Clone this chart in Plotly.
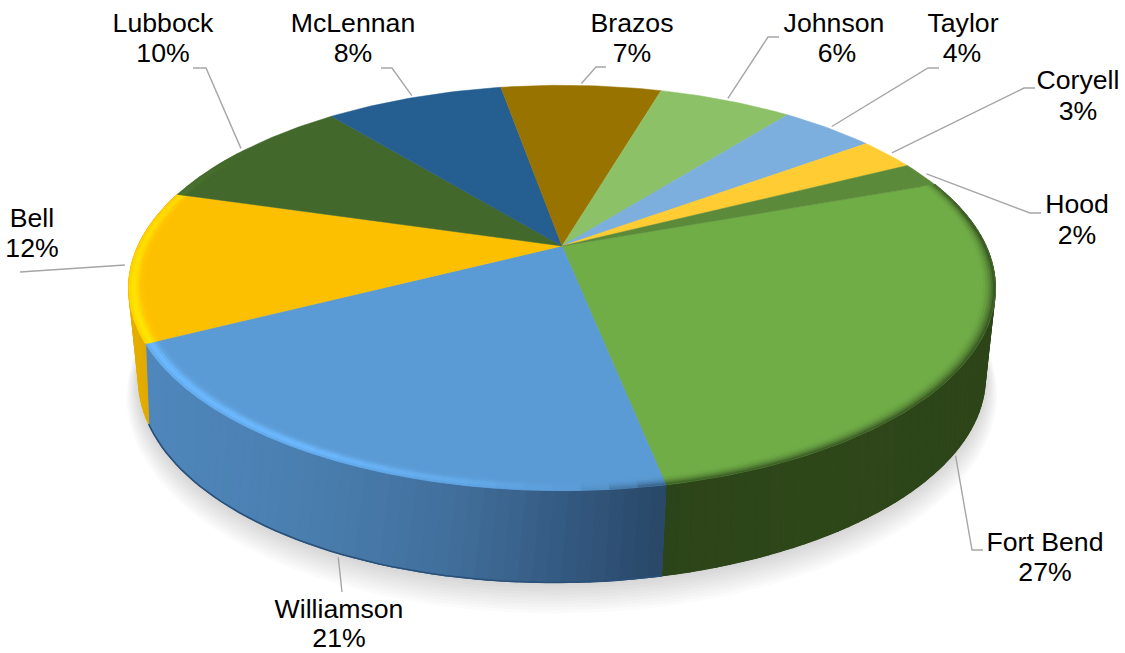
import numpy as np
import plotly.graph_objects as go

# ---- data (clockwise from the start angle) ----
counties = ["Fort Bend", "Williamson", "Bell", "Lubbock", "McLennan",
            "Brazos", "Johnson", "Taylor", "Coryell", "Hood"]
shares = [27.4, 20.6, 12.1, 9.6, 8.1, 7.3, 6.1, 4.3, 2.6, 2.0]

# ---- styles ----
top_colors = ["#70AD47", "#5B9BD5", "#FDC000", "#43682B", "#255E91",
              "#997300", "#8CC168", "#7CAFDD", "#FFCD33", "#5B8A3A"]
FONT = "Liberation Sans"
LEADER = "#A6A6A6"
START = 19.8           # degrees, counter-clockwise from +x
CX, CY, RX, RY, P = 562.0, 246.0, 424.0, 194.0, 0.207
P_LOW, DEPTH, KX_LOW, KY_LOW, SKEW_LOW = 0.258, 79.0, 0.965, 0.985, 8.0

# label placement: name centre, percent centre, leader elbow/end, rim anchor tweak
label_layout = {
    "Fort Bend":  dict(n=(1045, 544), p=(1045, 574), e=[(972, 550), (983, 550)], low=True, da=-5.0),
    "Williamson": dict(n=(339, 611), p=(339, 640), e=[(342, 592)], low=True, da=1.8),
    "Bell":       dict(n=(32, 220), p=(32, 250), e=[(30, 272), (20, 272)], low=False, da=0),
    "Lubbock":    dict(n=(163, 25), p=(163, 55), e=[(206, 68), (193, 68)], low=False, da=0),
    "McLennan":   dict(n=(353, 25), p=(353, 55), e=[(392, 68), (381, 68)], low=False, da=0),
    "Brazos":     dict(n=(632, 25), p=(632, 55), e=[(596, 67), (606, 67)], low=False, da=0),
    "Johnson":    dict(n=(834, 25), p=(837, 55), e=[(768, 37), (779, 37)], low=False, da=0),
    "Taylor":     dict(n=(963, 25), p=(962, 55), e=[(928, 68), (939, 68)], low=False, da=0),
    "Coryell":    dict(n=(1078, 82), p=(1078, 113), e=[(1024, 88), (1035, 88)], low=False, da=0),
    "Hood":       dict(n=(1077, 206), p=(1077, 237), e=[(1030, 213), (1041, 213)], low=False, da=0),
}


def hex2rgb(h):
    return np.array([int(h[i:i + 2], 16) for i in (1, 3, 5)], dtype=float)


def rgb(c):
    c = np.clip(c, 0, 255)
    return "rgb(%d,%d,%d)" % tuple(c.round())


def proj(t, r=1.0, low=False, grow=0.0):
    a = np.radians(np.asarray(t, dtype=float))
    c, s = np.cos(a) * r, np.sin(a) * r
    if low:
        den = 1 + P_LOW * s
        skew = SKEW_LOW * np.minimum(s, 0.0) ** 3
        return (CX + skew + (RX + grow) * KX_LOW * c / den,
                CY + DEPTH - (RY + grow) * KY_LOW * s / den)
    den = 1 + P * s
    return CX + (RX + grow) * c / den, CY - (RY + grow) * s / den


fig = go.Figure()


def poly(x, y, color, lw=0.8):
    fig.add_trace(go.Scatter(x=list(x), y=list(y), mode="lines", fill="toself",
                             fillcolor=color, line=dict(color=color, width=lw),
                             hoverinfo="skip"))


total = sum(shares)
sweeps = [v / total * 360 for v in shares]
edges = START - np.concatenate([[0], np.cumsum(sweeps)])  # decreasing angles

# soft shadow under the body
th = np.linspace(0, 360, 181)
for g in range(1, 11):
    x, y = proj(th, low=True, grow=g * 1.2)
    poly(x, y + g * 1.5, "rgba(0,0,0,0.014)", lw=0)

# walls with a gradient along the screen x
wall_stops = {
    "Fort Bend": ([660, 800, 990], ["#2C4419", "#2E4719", "#2D4519"]),
    "Williamson": ([145, 300, 450, 560, 662], ["#4F87BC", "#4A7FB0", "#426F9C", "#345A82", "#294767"]),
    "Bell": ([130, 155], ["#E6AE00", "#E0A800"]),
}
for i, name in enumerate(counties):
    if name not in wall_stops:
        continue
    a0, a1 = edges[i], edges[i + 1]
    xs, cols = wall_stops[name]
    cols = np.array([hex2rgb(c) for c in cols])
    n = max(2, int((a0 - a1) / 1.5))
    grid = np.linspace(a0, a1, n + 1)
    # solid underlay so that no background shows through the strip seams
    ux0, uy0 = proj(grid)
    ux1, uy1 = proj(grid[::-1], low=True)
    poly(np.r_[ux0, ux1, ux0[0]], np.r_[uy0, uy1, uy0[0]], rgb(cols.mean(axis=0)), lw=0.6)
    for u, v in zip(grid[:-1], grid[1:]):
        tx0, ty0 = proj(u)
        tx1, ty1 = proj(v)
        bx0, by0 = proj(u, low=True)
        bx1, by1 = proj(v, low=True)
        mid = (tx0 + tx1 + bx0 + bx1) / 4
        col = [np.interp(mid, xs, cols[:, j]) for j in range(3)]
        poly([tx0, tx1, bx1, bx0, tx0], [ty0, ty1, by1, by0, ty0], rgb(np.array(col)), lw=1.2)
    if name == "Williamson":
        bx, by = proj(grid, low=True)
        fig.add_trace(go.Scatter(x=bx, y=by, mode="lines", hoverinfo="skip",
                                 line=dict(color="#2A5078", width=1.6)))

# top face slices
for i, name in enumerate(counties):
    grid = np.linspace(edges[i], edges[i + 1], max(3, int(sweeps[i])))
    x, y = proj(grid)
    poly(np.r_[CX, x, CX], np.r_[CY, y, CY], top_colors[i], lw=0.5)

# bevel band along the rim
lit_t = [-215, -195, -165, -120, -100, -88, -78, 10, 25, 45]
lit_f = [0.0, 0.14, 0.20, 0.20, 0.10, 0.0, -0.5, -0.58, -0.35, 0.0]
rings = np.array([0.966, 0.973, 0.979, 0.985, 0.990, 0.995, 1.0])
for i, name in enumerate(counties):
    n = max(2, int(sweeps[i] / 3))
    grid = np.linspace(edges[i], edges[i + 1], n + 1)
    base = hex2rgb(top_colors[i])
    for u, v in zip(grid[:-1], grid[1:]):
        m = (u + v) / 2
        if m > 180:
            m -= 360
        if m < -215 or m > 45:
            continue
        f = np.interp(m, lit_t, lit_f)
        if abs(f) < 0.01:
            continue
        for r0, r1 in zip(rings[:-1], rings[1:]):
            w = (((r0 + r1) / 2) - rings[0]) / (rings[-1] - rings[0])
            amt = np.exp(-((w - 0.68) / 0.34) ** 2) if f > 0 else w ** 2.2
            x0, y0 = proj([u, v], r=r0)
            x1, y1 = proj([v, u], r=r1)
            poly(np.r_[x0, x1, x0[0]], np.r_[y0, y1, y0[0]], rgb(base * (1 + f * amt)), lw=0.5)

# leader lines from each slice's mid-angle
for i, name in enumerate(counties):
    lay = label_layout[name]
    mid = (edges[i] + edges[i + 1]) / 2 + lay["da"]
    sx, sy = proj(mid, r=1.0 if lay["low"] else 1.015, low=lay["low"])
    px = [float(sx)] + [p[0] for p in lay["e"]]
    py = [float(sy) + (4 if lay["low"] else 0)] + [p[1] for p in lay["e"]]
    fig.add_trace(go.Scatter(x=px, y=py, mode="lines", hoverinfo="skip",
                             line=dict(color=LEADER, width=1.4)))

# labels
tx, ty, tt = [], [], []
for i, name in enumerate(counties):
    lay = label_layout[name]
    tx += [lay["n"][0], lay["p"][0]]
    ty += [lay["n"][1], lay["p"][1]]
    tt += [name, "%d%%" % round(shares[i] / total * 100)]
fig.add_trace(go.Scatter(x=tx, y=ty, text=tt, mode="text", textposition="middle center",
                         textfont=dict(family=FONT, size=26.67, color="#000000"),
                         hoverinfo="skip"))

fig.update_layout(
    width=1125, height=653, margin=dict(l=0, r=0, t=0, b=0),
    paper_bgcolor="#FFFFFF", plot_bgcolor="#FFFFFF", showlegend=False, hovermode=False,
    xaxis=dict(range=[0, 1125], visible=False, fixedrange=True),
    yaxis=dict(range=[653, 0], visible=False, fixedrange=True),
)
fig.write_html("out.html", config=dict(displayModeBar=False),
               post_script="document.body.style.margin='0';")
